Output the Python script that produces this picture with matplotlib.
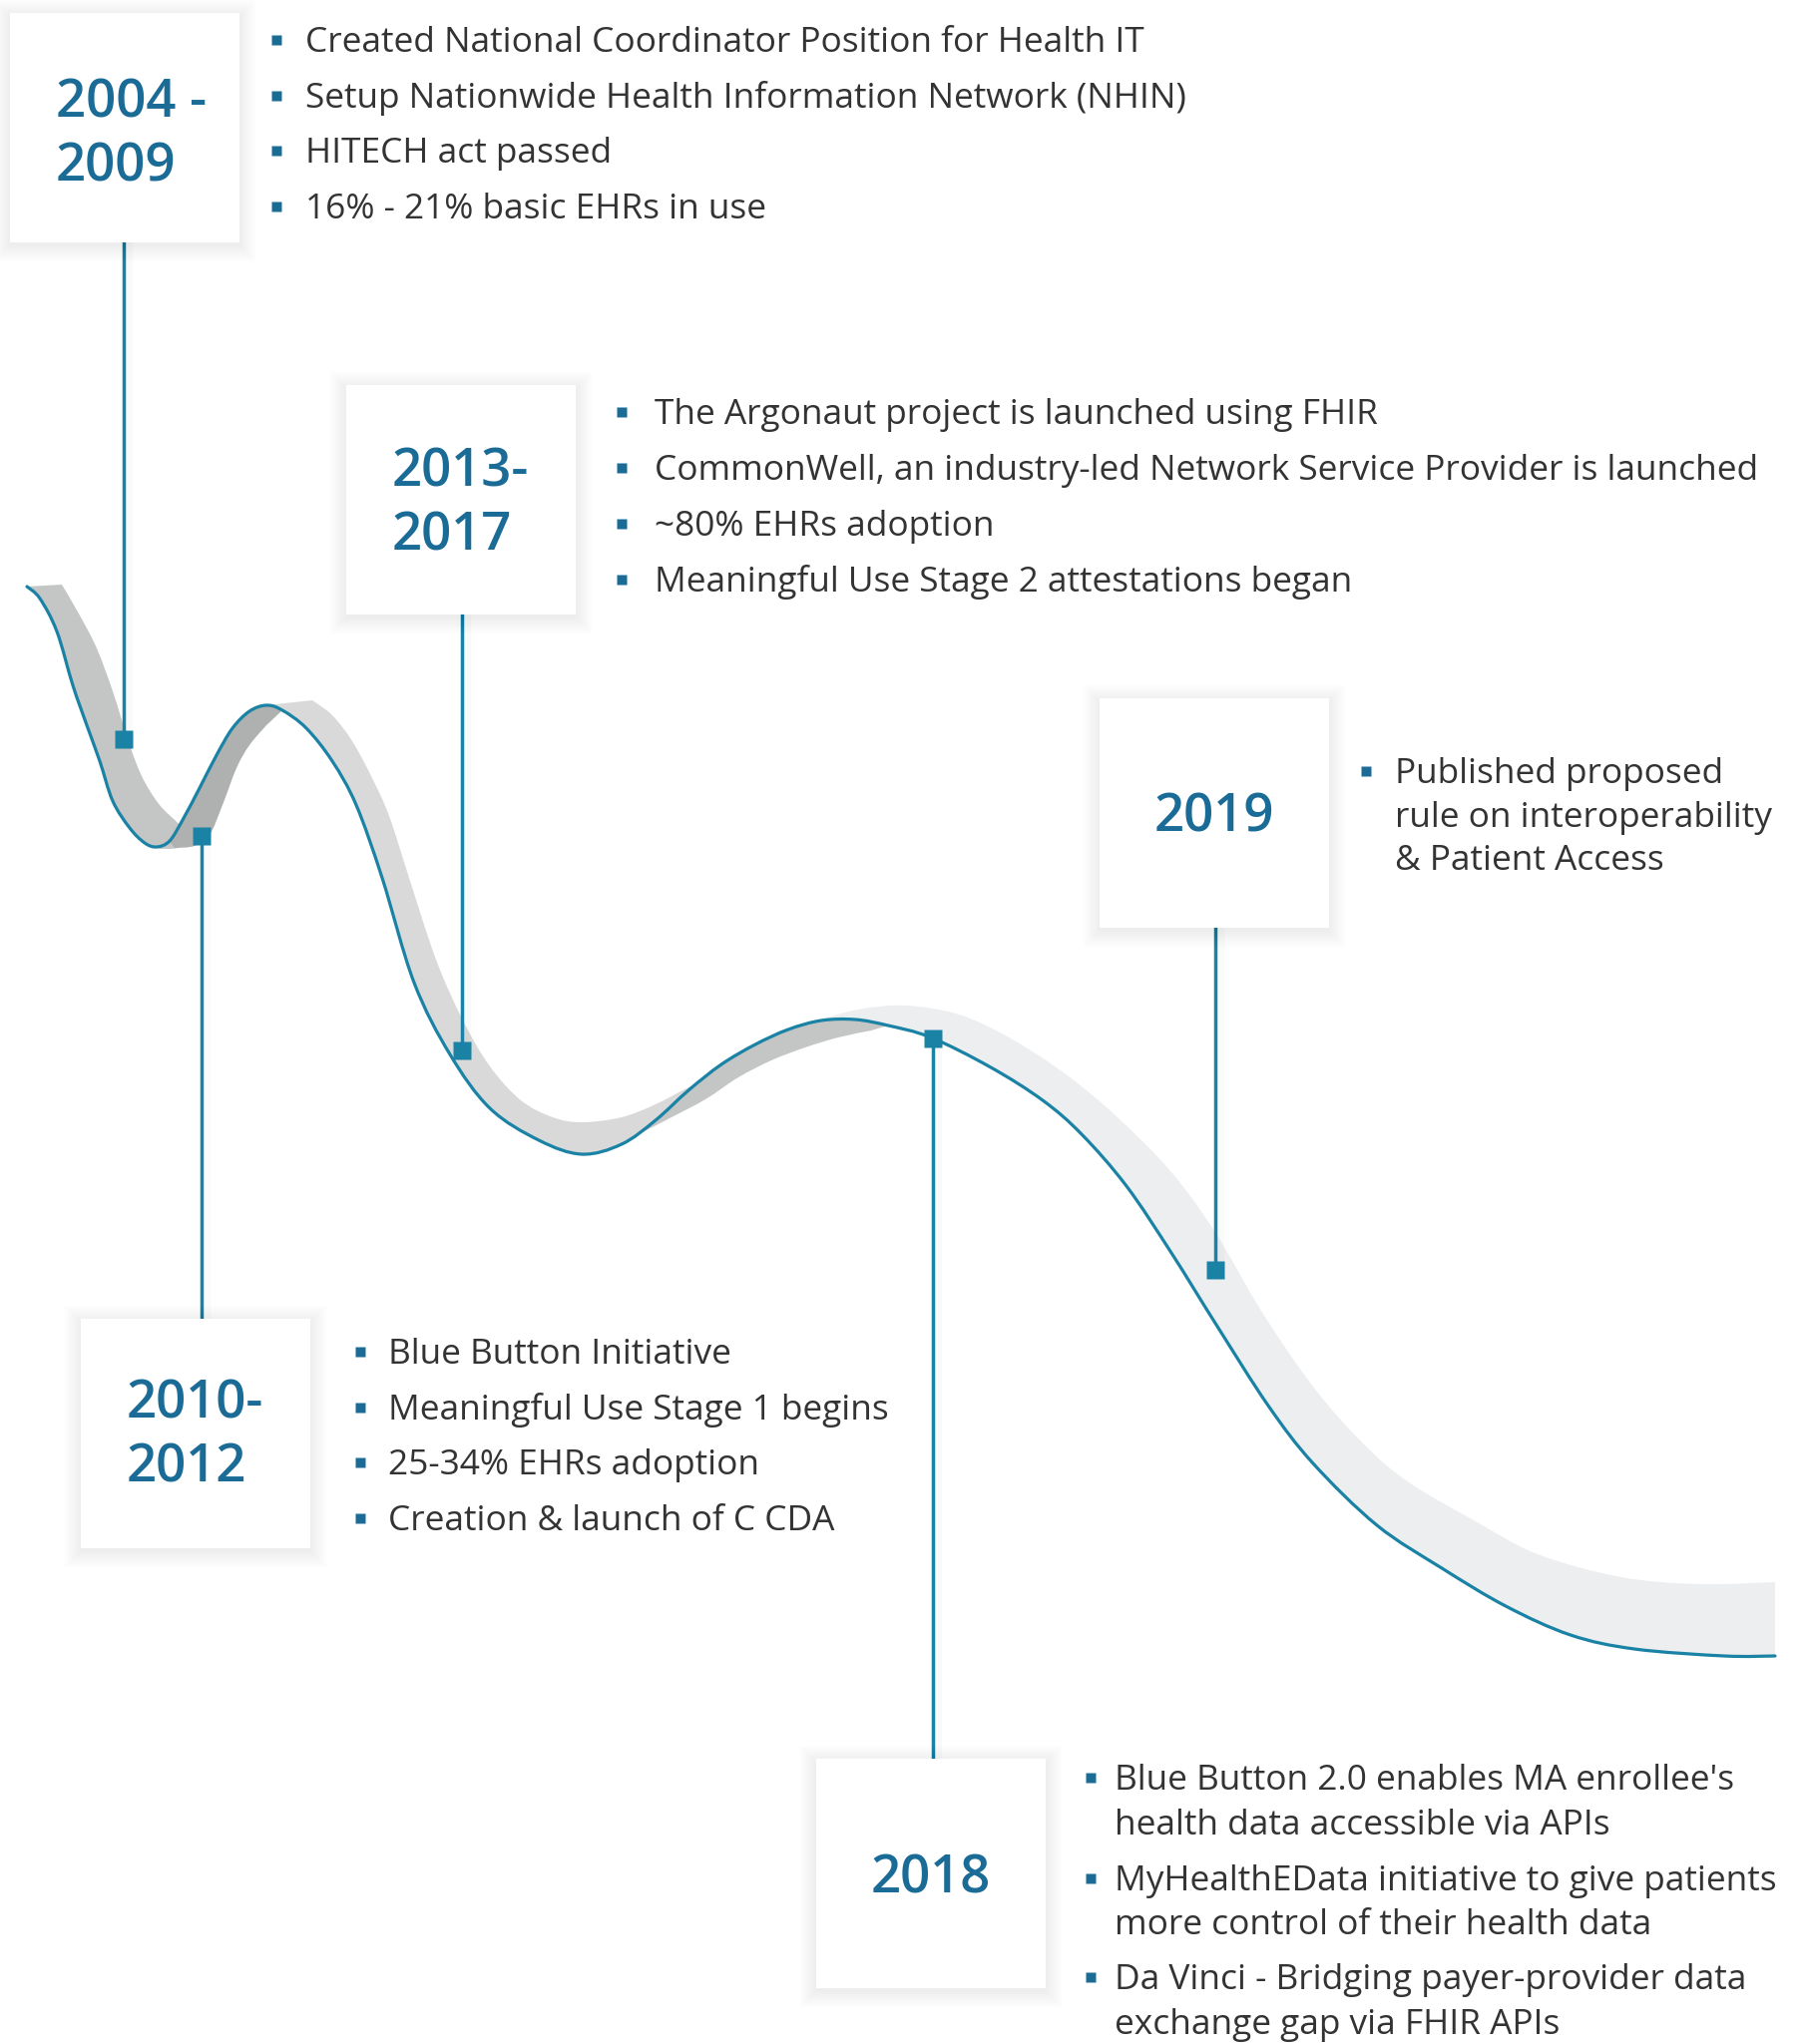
import matplotlib
matplotlib.use("Agg")
import matplotlib.pyplot as plt
from matplotlib.path import Path
from matplotlib.patches import PathPatch, Rectangle
import numpy as np

# Timeline content
years = [["2004 -", "2009"], ["2010-", "2012"], ["2013-", "2017"], ["2018"], ["2019"]]
notes = [
    [["Created National Coordinator Position for Health IT"],
     ["Setup Nationwide Health Information Network (NHIN)"],
     ["HITECH act passed"],
     ["16% - 21% basic EHRs in use"]],
    [["Blue Button Initiative"],
     ["Meaningful Use Stage 1 begins"],
     ["25-34% EHRs adoption"],
     ["Creation & launch of C CDA"]],
    [["The Argonaut project is launched using FHIR"],
     ["CommonWell, an industry-led Network Service Provider is launched"],
     ["~80% EHRs adoption"],
     ["Meaningful Use Stage 2 attestations began"]],
    [["Blue Button 2.0 enables MA enrollee's", "health data accessible via APIs"],
     ["MyHealthEData initiative to give patients", "more control of their health data"],
     ["Da Vinci - Bridging payer-provider data", "exchange gap via FHIR APIs"]],
    [["Published proposed", "rule on interoperability", "& Patient Access"]],
]

# Ribbon shape (pixel coords)
front_x = [27, 40, 57, 73, 87, 100, 113, 130, 145, 157, 170, 183, 200, 217, 233, 250, 267, 283,
           307, 333, 357, 383, 415, 451, 491, 540, 583, 623, 657, 690, 723, 757, 790, 823,
           857, 890, 933, 993, 1045, 1084, 1129, 1174, 1219, 1271, 1316, 1380, 1445, 1509,
           1574, 1638, 1728, 1779]
front_y = [588, 600, 633, 687, 727, 763, 803, 830, 845, 849, 843, 822, 790, 757, 730, 713, 707, 712,
           730, 763, 807, 880, 985, 1057, 1111, 1143, 1157, 1147, 1123, 1093, 1067, 1047, 1032, 1023,
           1022, 1028, 1040, 1070, 1103, 1137, 1189, 1256, 1328, 1409, 1467, 1529, 1572, 1610,
           1639, 1653, 1660, 1660]

back_a = [(62, 586), (80, 617), (97, 650), (113, 693), (130, 747), (143, 780), (160, 807),
          (180, 827), (190, 842), (178, 850), (160, 851)]
back_b = [(267, 727), (250, 747), (237, 770), (223, 807), (210, 837), (195, 848), (175, 850)]
back_c = [(313, 702), (333, 717), (353, 743), (372, 778), (390, 818), (410, 880), (437, 962),
          (464, 1023), (491, 1069), (522, 1103), (554, 1120), (583, 1125), (623, 1120),
          (657, 1107), (690, 1090), (700, 1087)]
back_d = [(873, 1033), (840, 1040), (807, 1050), (773, 1063), (740, 1080), (707, 1102),
          (673, 1120), (640, 1137)]
back_e = [(823, 1022), (860, 1012), (907, 1008), (961, 1017), (1013, 1041), (1071, 1079),
          (1122, 1122), (1174, 1175), (1219, 1237), (1264, 1314), (1316, 1390), (1367, 1448),
          (1412, 1486), (1477, 1524), (1541, 1558), (1625, 1581), (1703, 1588), (1779, 1586)]

# Layout
W, H = 1811, 2049
BOX = 230
box_xy = [(10, 13), (81, 1322), (347, 386), (818, 1763), (1102, 700)]
marker_xy = [(124, 741), (201.5, 837.5), (462.5, 1053), (934.5, 1040.5), (1217.5, 1272.5)]
year_centered = [False, False, False, True, True]
year_top = [85, 80, 83, 0, 0]
text_x = [306, 389, 656, 1117, 1398]
bullet_x = [277, 361, 623, 1093, 1369]
line_y = [
    [[40], [96], [151], [207]],
    [[1355], [1411], [1466], [1522]],
    [[413], [469], [525], [581]],
    [[1782, 1827], [1883, 1927], [1982, 2027]],
    [[773, 817, 860]],
]

LINE_C = "#1a82a4"
YEAR_C = "#1b6b97"
TEXT_C = "#333333"
FONT = ["Open Sans", "DejaVu Sans"]


def smooth(pts):
    pts = np.asarray(pts, float)
    verts = [pts[0]]
    codes = [Path.MOVETO]
    for i in range(len(pts) - 1):
        p0 = pts[i - 1] if i > 0 else pts[i]
        p1, p2 = pts[i], pts[i + 1]
        p3 = pts[i + 2] if i + 2 < len(pts) else pts[i + 1]
        verts += [p1 + (p2 - p0) / 6, p2 - (p3 - p1) / 6, p2]
        codes += [Path.CURVE4] * 3
    return verts, codes


def front_slice(x0, x1):
    return [(x, y) for x, y in zip(front_x, front_y) if x0 <= x <= x1]


def region(ax, first, second, color):
    v1, c1 = smooth(first)
    v2, c2 = smooth(second)
    c2[0] = Path.LINETO
    verts = v1 + v2 + [v1[0]]
    codes = c1 + c2 + [Path.CLOSEPOLY]
    ax.add_patch(PathPatch(Path(verts, codes), facecolor=color, edgecolor="none", zorder=1))


fig = plt.figure(figsize=(W / 100, H / 100), dpi=100)
ax = fig.add_axes([0, 0, 1, 1])
ax.set_xlim(0, W)
ax.set_ylim(H, 0)
ax.axis("off")

# ribbon faces
region(ax, back_a, front_slice(27, 157)[::-1], "#c4c6c5")
region(ax, front_slice(170, 283), back_b, "#afb1b0")
region(ax, back_c, front_slice(267, 690)[::-1], "#d9d9d9")
region(ax, front_slice(657, 890), back_d, "#c4c6c5")
region(ax, back_e, front_slice(823, 1779)[::-1], "#edeef0")

# ribbon front edge
v, c = smooth(list(zip(front_x, front_y)))
ax.add_patch(PathPatch(Path(v, c), facecolor="none", edgecolor=LINE_C, lw=2.3, zorder=2,
                       capstyle="round"))

for i in range(len(years)):
    bx, by = box_xy[i]
    mx, my = marker_xy[i]

    # connector
    y0 = by + BOX if my > by else by
    ax.plot([mx + 5, mx + 5], [y0, my], color="#000000", alpha=0.02, lw=6, zorder=2.5)
    ax.plot([mx, mx], [y0, my], color=LINE_C, lw=2.5, zorder=3)
    ax.plot(mx, my, marker="s", ms=13.5, color=LINE_C, mec="none", zorder=4)

    # box with soft shadow
    for k in range(1, 19):
        ax.add_patch(Rectangle((bx - k + 1, by - k + 4), BOX + 2 * k - 2, BOX + 2 * k - 2,
                               facecolor="black", edgecolor="none", alpha=0.0045, zorder=4.5))
    ax.add_patch(Rectangle((bx, by), BOX, BOX, facecolor="white", edgecolor="none", zorder=5))

    # year label
    if year_centered[i]:
        ax.text(bx + BOX / 2, by + BOX / 2 + 19, years[i][0], ha="center", va="baseline",
                fontsize=38, color=YEAR_C, family=FONT, weight=600, zorder=6)
    else:
        for j, s in enumerate(years[i]):
            ax.text(bx + 46, by + year_top[i] + 64 * j + 19, s, ha="left", va="baseline",
                    fontsize=38, color=YEAR_C, family=FONT, weight=600, zorder=6)

    # bullet notes
    for item, ys in zip(notes[i], line_y[i]):
        ax.plot(bullet_x[i], ys[0], marker="s", ms=7.2, color=YEAR_C, mec="none", zorder=6)
        for s, yy in zip(item, ys):
            ax.text(text_x[i], yy + 12, s, ha="left", va="baseline", fontsize=25.4,
                    color=TEXT_C, family=FONT, zorder=6)

fig.savefig("out.png", dpi=100, facecolor="white")
